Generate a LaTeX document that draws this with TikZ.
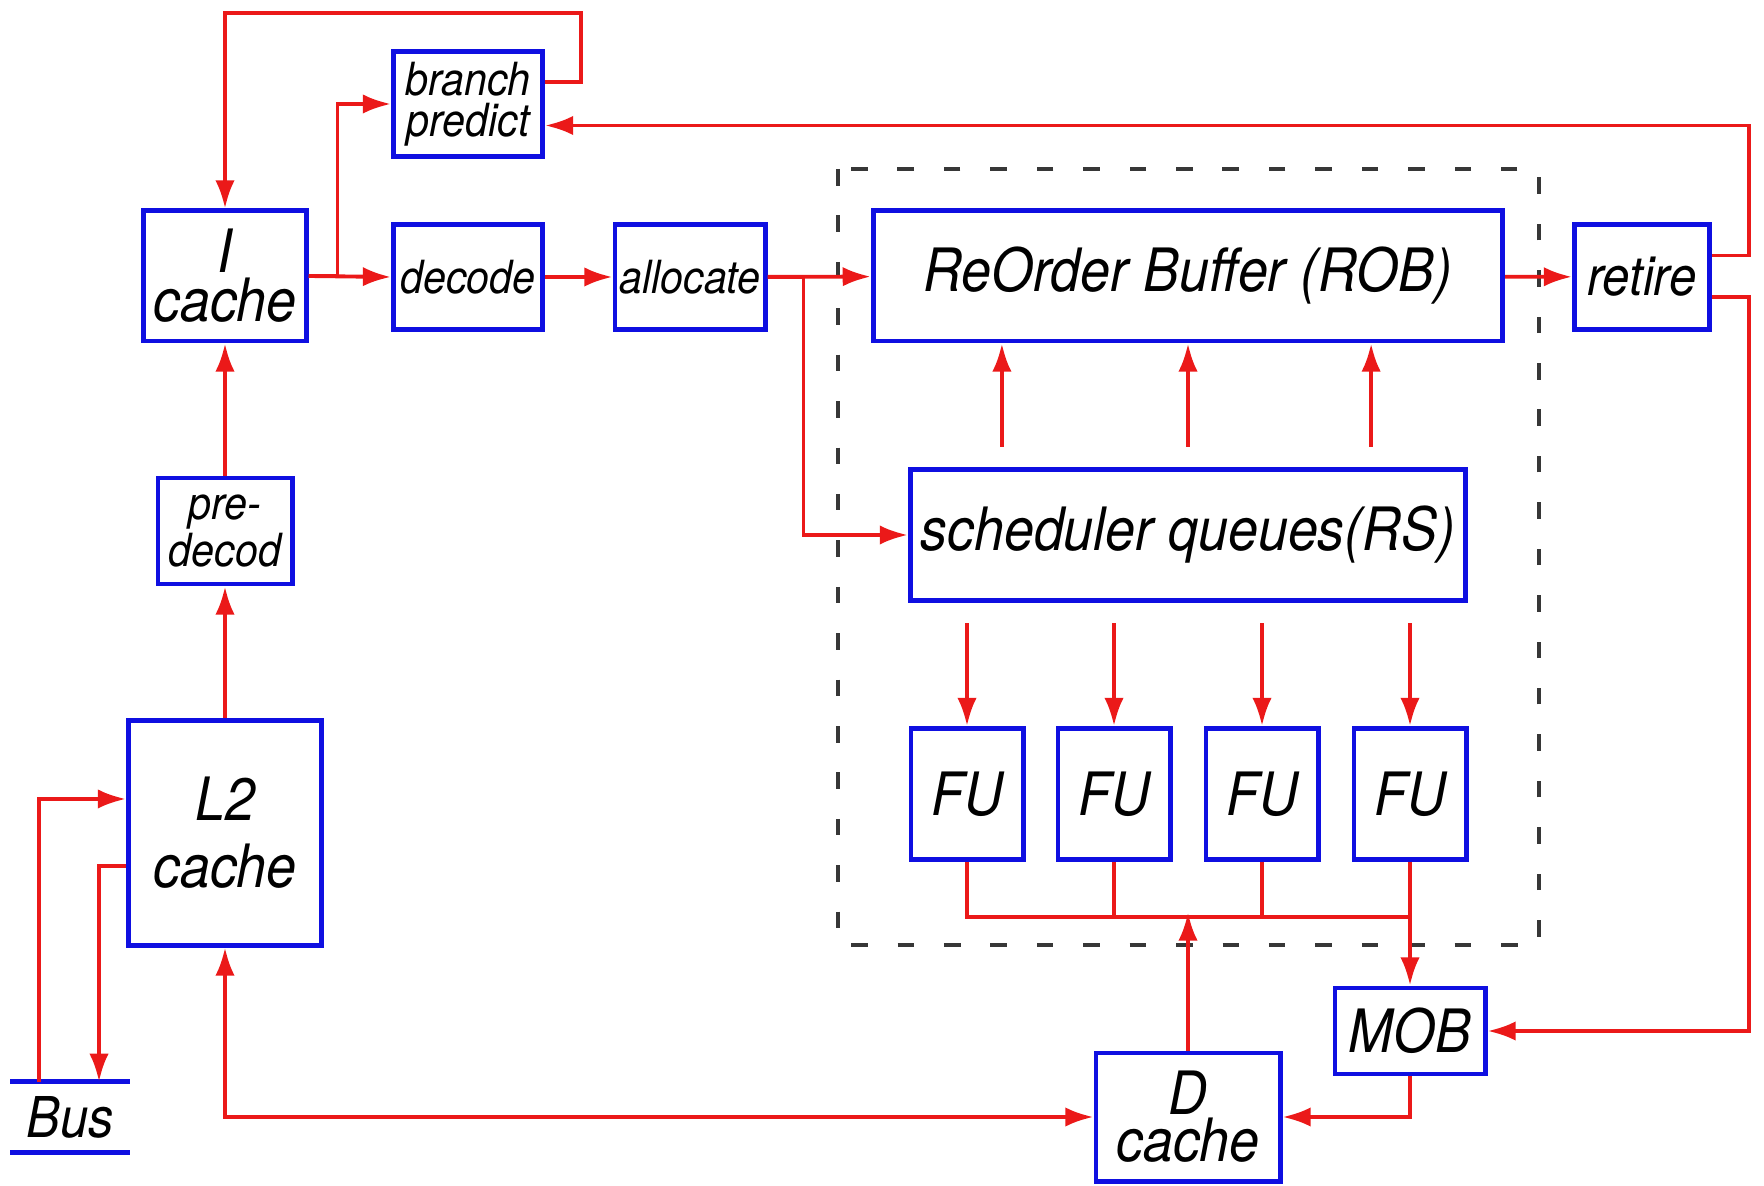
\documentclass[tikz,border=0pt]{standalone}
\usepackage{fontspec}
\newfontfamily\diagfont{TeX Gyre Heros}[FakeStretch=0.9]
\usepackage{xcolor}
\usepackage{tikz}
\usetikzlibrary{positioning, arrows.meta}
\definecolor{boxblue}{RGB}{15,15,225}
\definecolor{wirered}{RGB}{235,25,25}
\definecolor{dashgray}{RGB}{55,55,55}

\begin{document}
\begin{tikzpicture}[
    x=0.01cm, y=-0.01cm,
    every node/.style={
        inner sep=0pt,
        align=center
    },
    unit/.style={
        draw=boxblue,
        line width=1.4pt,
        fill=white,
        font=\diagfont\itshape\fontsize{17}{14}\selectfont
    },
    small/.style={font=\diagfont\itshape\fontsize{13}{11.5}\selectfont},
    wire/.style={draw=wirered, line width=1.1pt},
    arrow/.style={wire, -{Latex[length=8pt,width=5.5pt]}},
    both/.style={wire, {Latex[length=8pt,width=5.5pt]}-{Latex[length=8pt,width=5.5pt]}},
    busline/.style={draw=boxblue, line width=1.4pt}
]

\useasboundingbox (0,0) rectangle (1764,1186);

% out-of-order core
\draw[dashgray, line width=1.1pt, dash pattern=on 4.7pt off 8.5pt] (838,169) rectangle (1539,945);

\node (icache) [unit, minimum width=1.62cm, minimum height=1.30cm] at (225,276) {I\\cache};
\node (bpred) [unit, small, minimum width=1.49cm, minimum height=1.05cm] at (468,104) {branch\\predict};
\node (decode) [unit, small, minimum width=1.49cm, minimum height=1.05cm] at (468,277) {decode};
\node (alloc) [unit, small, minimum width=1.50cm, minimum height=1.05cm] at (690,277) {allocate};
\node (rob) [unit, minimum width=6.29cm, minimum height=1.30cm] at (1188,276) {ReOrder Buffer (ROB)};
\node (retire) [unit, font=\diagfont\itshape\fontsize{15.5}{14}\selectfont, minimum width=1.35cm, minimum height=1.05cm] at (1642,277) {retire};
\node (sched) [unit, minimum width=5.55cm, minimum height=1.31cm] at (1188,535) {scheduler queues(RS)};
\node (fu1) [unit, minimum width=1.12cm, minimum height=1.31cm] at (967,794) {FU};
\node (fu2) [unit, minimum width=1.12cm, minimum height=1.31cm] at (1114,794) {FU};
\node (fu3) [unit, minimum width=1.12cm, minimum height=1.31cm] at (1262,794) {FU};
\node (fu4) [unit, minimum width=1.12cm, minimum height=1.31cm] at (1410,794) {FU};
\node (predec) [unit, small, minimum width=1.34cm, minimum height=1.06cm] at (225,531) {pre-\\decod};
\node (l2) [unit, font=\diagfont\itshape\fontsize{17}{19}\selectfont, minimum width=1.93cm, minimum height=2.24cm] at (225,833) {L2\\cache};
\node (mob) [unit, minimum width=1.50cm, minimum height=0.86cm] at (1410,1031) {MOB};
\node (dcache) [unit, font=\diagfont\itshape\fontsize{17}{12}\selectfont, minimum width=1.84cm, minimum height=1.28cm] at (1188,1117) {D\\cache};
\node (bus) [font=\diagfont\itshape\fontsize{16}{16}\selectfont, minimum width=1.18cm, minimum height=0.69cm] at (70,1117) {Bus};
\draw[busline] (bus.north west) -- (bus.north east);
\draw[busline] (bus.south west) -- (bus.south east);

% front end
\draw[arrow] ([yshift=0.22cm]bpred.east) -- ++(36,0) |- (225,13) -- (icache.north);
\draw[arrow] (icache.east) -- (decode.west);
\draw[arrow] (icache.east) -- ++(29,0) |- (bpred.west);
\draw[arrow] (decode) -- (alloc);
\draw[arrow] (alloc) -- (rob);
\draw[arrow] (alloc.east) -- ++(36,0) |- (sched.west);
\draw[arrow] (rob) -- (retire);
\draw[arrow] ([yshift=0.215cm]retire.east) -- ++(37,0) |- ([yshift=-0.215cm]bpred.east);
\draw[arrow] ([yshift=-0.2cm]retire.east) -- ++(37,0) |- (mob.east);

% scheduler
\draw[arrow] ([xshift=-1.86cm, yshift=0.2cm]sched.north) -- ([xshift=-1.86cm]rob.south);
\draw[arrow] ([yshift=0.2cm]sched.north) -- (rob.south);
\draw[arrow] ([xshift=1.83cm, yshift=0.2cm]sched.north) -- ([xshift=1.83cm]rob.south);
\draw[arrow] ([yshift=-0.2cm]fu1.north |- sched.south) -- (fu1.north);
\draw[arrow] ([yshift=-0.2cm]fu2.north |- sched.south) -- (fu2.north);
\draw[arrow] ([yshift=-0.2cm]fu3.north |- sched.south) -- (fu3.north);
\draw[arrow] ([yshift=-0.2cm]fu4.north |- sched.south) -- (fu4.north);

% results
\draw[wire] (fu1.south) -- ++(0,55) -| (fu4.south);
\draw[wire] (fu2.south) -- ++(0,55);
\draw[wire] (fu3.south) -- ++(0,55);
\draw[arrow] (fu4.south) -- (mob.north);
\draw[arrow] (dcache.north) -- ++(0,-138);
\draw[arrow] (mob.south) |- (dcache.east);
\draw[both] (l2.south) |- (dcache.west);

% memory side
\draw[arrow] ([xshift=-0.31cm]bus.north) |- ([yshift=0.34cm]l2.west);
\draw[arrow] ([yshift=-0.33cm]l2.west) -| ([xshift=0.29cm]bus.north);
\draw[arrow] (l2) -- (predec);
\draw[arrow] (predec) -- (icache);

\end{tikzpicture}
\end{document}
